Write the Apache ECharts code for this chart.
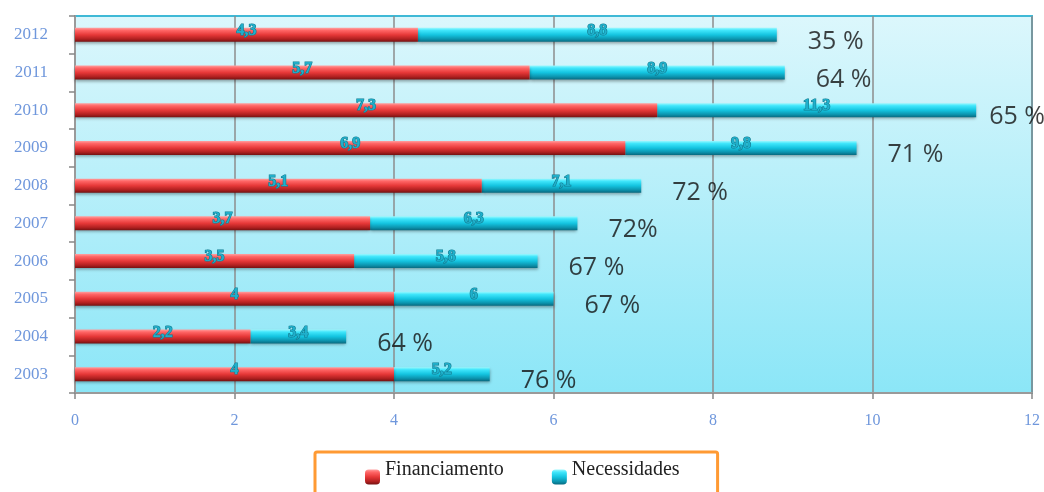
<!DOCTYPE html>
<html>
<head>
<meta charset="utf-8">
<script src="https://cdn.jsdelivr.net/npm/echarts@6/dist/echarts.min.js"></script>
<style>html,body{margin:0;padding:0;background:#fff}#c{width:1044px;height:492px}</style>
</head>
<body>
<div id="c"></div>
<script>
var years = ['2003','2004','2005','2006','2007','2008','2009','2010','2011','2012'];
var financiamento = [4, 2.2, 4, 3.5, 3.7, 5.1, 6.9, 7.3, 5.7, 4.3];
var necessidades = [5.2, 3.4, 6, 5.8, 6.3, 7.1, 9.8, 11.3, 8.9, 8.8];
var percentLabels = ['76 %','64 %','67 %','67 %','72%','72 %','71 %','65 %','64 %','35 %'];
var xTicks = [0, 2, 4, 6, 8, 10, 12];

function fmt(v){ return String(Math.round(v*10)/10).replace('.', ','); }
function grad(stops){
  return new echarts.graphic.LinearGradient(0,0,0,1, stops.map(function(s){return {offset:s[0], color:s[1]};}));
}
var redFill = grad([[0,'#ffa0a0'],[0.18,'#ff6666'],[0.5,'#e63838'],[0.8,'#b02020'],[1,'#741212']]);
var cyanFill = grad([[0,'#9af8ff'],[0.18,'#40e6fb'],[0.5,'#14c4e0'],[0.8,'#0c94ae'],[1,'#086a80']]);

var labelStyle = {
  show: true, position: 'inside', offset: [0, -4],
  fontFamily: 'Liberation Serif', fontWeight: 'bold', fontSize: 16,
  color: '#1fb0cc', textBorderColor: '#137c90', textBorderWidth: 1.2
};

var chart = echarts.init(document.getElementById('c'), null, {renderer: 'canvas'});
chart.setOption({
  animation: false,
  grid: {
    left: 75, right: 12, top: 16, bottom: 99, show: true,
    backgroundColor: grad([[0,'#dcf7fc'],[1,'#8be6f7']]),
    borderColor: '#3fb9d6', borderWidth: 2
  },
  legend: {
    left: 315, top: 452,
    padding: [8, 38, 30, 50],
    borderColor: '#ff9a33', borderWidth: 3, borderRadius: 2,
    itemWidth: 15, itemHeight: 15, itemGap: 48,
    data: ['Financiamento', 'Necessidades'],
    formatter: function(name){ return '{t|' + name + '}'; },
    textStyle: {
      fontFamily: 'Liberation Serif', fontSize: 20, color: '#222',
      rich: { t: { fontFamily: 'Liberation Serif', fontSize: 20, color: '#222', padding: [0, 0, 14, 0] } }
    }
  },
  xAxis: {
    type: 'value', min: xTicks[0], max: xTicks[xTicks.length-1], interval: 2,
    axisLine: { show: true, lineStyle: { color: '#9a9a9a', width: 2 } },
    axisTick: { show: true, length: 6, lineStyle: { color: '#888', width: 1.5 } },
    axisLabel: { margin: 20, fontFamily: 'Liberation Serif', fontSize: 16, color: '#6f97dc' },
    splitLine: { show: true, lineStyle: { color: '#8c8c8c', width: 1.5 } }
  },
  yAxis: {
    type: 'category', data: years,
    axisLine: { show: true, lineStyle: { color: '#9a9a9a', width: 2 } },
    axisTick: { show: true, length: 6, lineStyle: { color: '#888', width: 1.5 } },
    axisLabel: { margin: 27, fontFamily: 'Liberation Serif', fontSize: 17, color: '#6f97dc' }
  },
  series: [
    {
      name: 'Financiamento', type: 'bar', stack: 'a', barWidth: 14,
      data: financiamento,
      itemStyle: { color: redFill, shadowColor: 'rgba(0,0,0,0.35)', shadowBlur: 3, shadowOffsetY: 2 },
      label: Object.assign({}, labelStyle, { formatter: function(p){ return fmt(p.value); } }),
      z: 3
    },
    {
      name: 'Necessidades', type: 'bar', stack: 'a', barWidth: 14,
      data: necessidades.map(function(v, i){ return Math.round((v - financiamento[i])*100)/100; }),
      itemStyle: { color: cyanFill, shadowColor: 'rgba(0,0,0,0.35)', shadowBlur: 3, shadowOffsetY: 2 },
      label: Object.assign({}, labelStyle, { formatter: function(p){ return fmt(necessidades[p.dataIndex]); } }),
      z: 2
    },
    {
      name: 'pct', type: 'scatter', symbolSize: 0, silent: true,
      data: necessidades.map(function(v, i){
        return { value: [v, i], label: { offset: [v > 11 ? 8 : 26, 7] } };
      }),
      label: {
        show: true, position: 'right',
        formatter: function(p){ return percentLabels[p.dataIndex]; },
        fontFamily: 'Open Sans', fontSize: 25, color: '#111'
      },
      z: 5
    }
  ]
});
</script>
</body>
</html>
